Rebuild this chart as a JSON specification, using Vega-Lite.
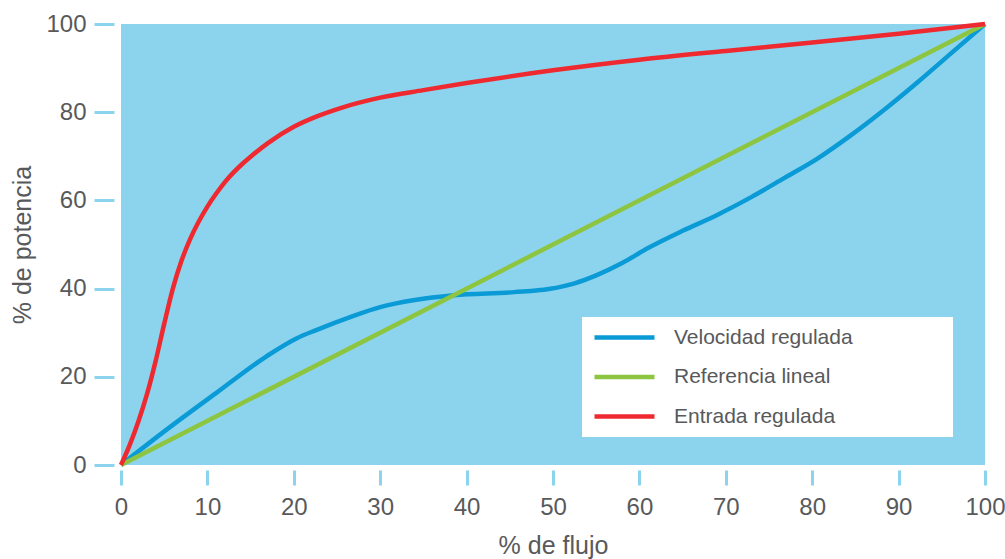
{
  "$schema": "https://vega.github.io/schema/vega-lite/v6.json",
  "width": 864,
  "height": 441,
  "autosize": {"type": "none"},
  "padding": {"left": 121, "top": 24, "right": 20, "bottom": 94},
  "background": "white",
  "config": {
    "view": {"fill": "#8cd4ee", "stroke": null},
    "font": "Liberation Sans"
  },
  "data": {
    "values": [
      {"flujo": 0, "potencia": 0, "serie": "Velocidad regulada"},
      {"flujo": 5.2, "potencia": 7.9, "serie": "Velocidad regulada"},
      {"flujo": 11, "potencia": 16.3, "serie": "Velocidad regulada"},
      {"flujo": 16.8, "potencia": 24.6, "serie": "Velocidad regulada"},
      {"flujo": 20.3, "potencia": 28.7, "serie": "Velocidad regulada"},
      {"flujo": 22.6, "potencia": 30.6, "serie": "Velocidad regulada"},
      {"flujo": 26.6, "potencia": 33.6, "serie": "Velocidad regulada"},
      {"flujo": 30, "potencia": 35.8, "serie": "Velocidad regulada"},
      {"flujo": 34, "potencia": 37.4, "serie": "Velocidad regulada"},
      {"flujo": 38.5, "potencia": 38.5, "serie": "Velocidad regulada"},
      {"flujo": 45.5, "potencia": 39.2, "serie": "Velocidad regulada"},
      {"flujo": 49.5, "potencia": 39.9, "serie": "Velocidad regulada"},
      {"flujo": 52.5, "potencia": 41.2, "serie": "Velocidad regulada"},
      {"flujo": 55, "potencia": 43, "serie": "Velocidad regulada"},
      {"flujo": 58, "potencia": 45.8, "serie": "Velocidad regulada"},
      {"flujo": 61, "potencia": 49.2, "serie": "Velocidad regulada"},
      {"flujo": 65, "potencia": 53.1, "serie": "Velocidad regulada"},
      {"flujo": 69, "potencia": 56.7, "serie": "Velocidad regulada"},
      {"flujo": 73, "potencia": 60.8, "serie": "Velocidad regulada"},
      {"flujo": 76.7, "potencia": 65, "serie": "Velocidad regulada"},
      {"flujo": 80.7, "potencia": 69.6, "serie": "Velocidad regulada"},
      {"flujo": 84.5, "potencia": 74.8, "serie": "Velocidad regulada"},
      {"flujo": 88.3, "potencia": 80.5, "serie": "Velocidad regulada"},
      {"flujo": 92.2, "potencia": 86.8, "serie": "Velocidad regulada"},
      {"flujo": 96.1, "potencia": 93.4, "serie": "Velocidad regulada"},
      {"flujo": 100, "potencia": 100, "serie": "Velocidad regulada"},
      {"flujo": 0, "potencia": 0, "serie": "Referencia lineal"},
      {"flujo": 100, "potencia": 100, "serie": "Referencia lineal"},
      {"flujo": 0, "potencia": 0, "serie": "Entrada regulada"},
      {"flujo": 1, "potencia": 4.5, "serie": "Entrada regulada"},
      {"flujo": 2, "potencia": 9.8, "serie": "Entrada regulada"},
      {"flujo": 3, "potencia": 16, "serie": "Entrada regulada"},
      {"flujo": 4, "potencia": 23.5, "serie": "Entrada regulada"},
      {"flujo": 5, "potencia": 32, "serie": "Entrada regulada"},
      {"flujo": 6, "potencia": 40, "serie": "Entrada regulada"},
      {"flujo": 7, "potencia": 46.3, "serie": "Entrada regulada"},
      {"flujo": 8, "potencia": 51.2, "serie": "Entrada regulada"},
      {"flujo": 9, "potencia": 55.2, "serie": "Entrada regulada"},
      {"flujo": 10, "potencia": 58.6, "serie": "Entrada regulada"},
      {"flujo": 11, "potencia": 61.5, "serie": "Entrada regulada"},
      {"flujo": 12, "potencia": 64.1, "serie": "Entrada regulada"},
      {"flujo": 13, "potencia": 66.3, "serie": "Entrada regulada"},
      {"flujo": 14, "potencia": 68.2, "serie": "Entrada regulada"},
      {"flujo": 15, "potencia": 69.9, "serie": "Entrada regulada"},
      {"flujo": 17, "potencia": 73, "serie": "Entrada regulada"},
      {"flujo": 20, "potencia": 76.7, "serie": "Entrada regulada"},
      {"flujo": 22.6, "potencia": 79, "serie": "Entrada regulada"},
      {"flujo": 25.5, "potencia": 81, "serie": "Entrada regulada"},
      {"flujo": 30, "potencia": 83.3, "serie": "Entrada regulada"},
      {"flujo": 35, "potencia": 85, "serie": "Entrada regulada"},
      {"flujo": 40, "potencia": 86.6, "serie": "Entrada regulada"},
      {"flujo": 50, "potencia": 89.5, "serie": "Entrada regulada"},
      {"flujo": 60, "potencia": 91.9, "serie": "Entrada regulada"},
      {"flujo": 70, "potencia": 93.9, "serie": "Entrada regulada"},
      {"flujo": 80, "potencia": 95.8, "serie": "Entrada regulada"},
      {"flujo": 90, "potencia": 97.8, "serie": "Entrada regulada"},
      {"flujo": 100, "potencia": 100, "serie": "Entrada regulada"}
    ]
  },
  "mark": {"type": "line", "interpolate": "monotone", "strokeWidth": 4.5, "strokeCap": "butt"},
  "encoding": {
    "x": {
      "field": "flujo", "type": "quantitative",
      "scale": {"domain": [0, 100], "nice": false, "zero": false},
      "axis": {
        "title": "% de flujo", "values": [0,10,20,30,40,50,60,70,80,90,100],
        "domain": false, "grid": false, "offset": 5,
        "tickSize": 15, "tickWidth": 3, "tickColor": "#8cd4ee",
        "labelFontSize": 24, "labelColor": "#58595b", "labelPadding": 10, "labelFlush": false,
        "titleFontSize": 25, "titleFontWeight": "normal", "titleColor": "#58595b", "titlePadding": 14
      }
    },
    "y": {
      "field": "potencia", "type": "quantitative",
      "scale": {"domain": [0, 100], "nice": false},
      "axis": {
        "title": "% de potencia", "values": [0,20,40,60,80,100],
        "domain": false, "grid": false, "offset": 7,
        "tickSize": 20, "tickWidth": 3, "tickColor": "#8cd4ee",
        "labelFontSize": 24, "labelColor": "#58595b", "labelPadding": 8, "labelFlush": false,
        "titleFontSize": 25, "titleFontWeight": "normal", "titleColor": "#58595b", "titlePadding": 10
      }
    },
    "color": {
      "field": "serie", "type": "nominal",
      "scale": {
        "domain": ["Velocidad regulada", "Referencia lineal", "Entrada regulada"],
        "range": ["#0a9bd6", "#8dc540", "#ee2a30"]
      },
      "legend": {
        "orient": "none", "legendX": 461, "legendY": 293,
        "title": " ", "titleOrient": "right", "titlePadding": 90, "titleFontSize": 10,
        "fillColor": "white", "padding": 10,
        "symbolType": "stroke", "symbolSize": 3600, "symbolStrokeWidth": 4.5,
        "clipHeight": 21,
        "labelFontSize": 21, "labelColor": "#58595b", "labelOffset": 17,
        "rowPadding": 17.5, "labelLimit": 400
      }
    }
  }
}
